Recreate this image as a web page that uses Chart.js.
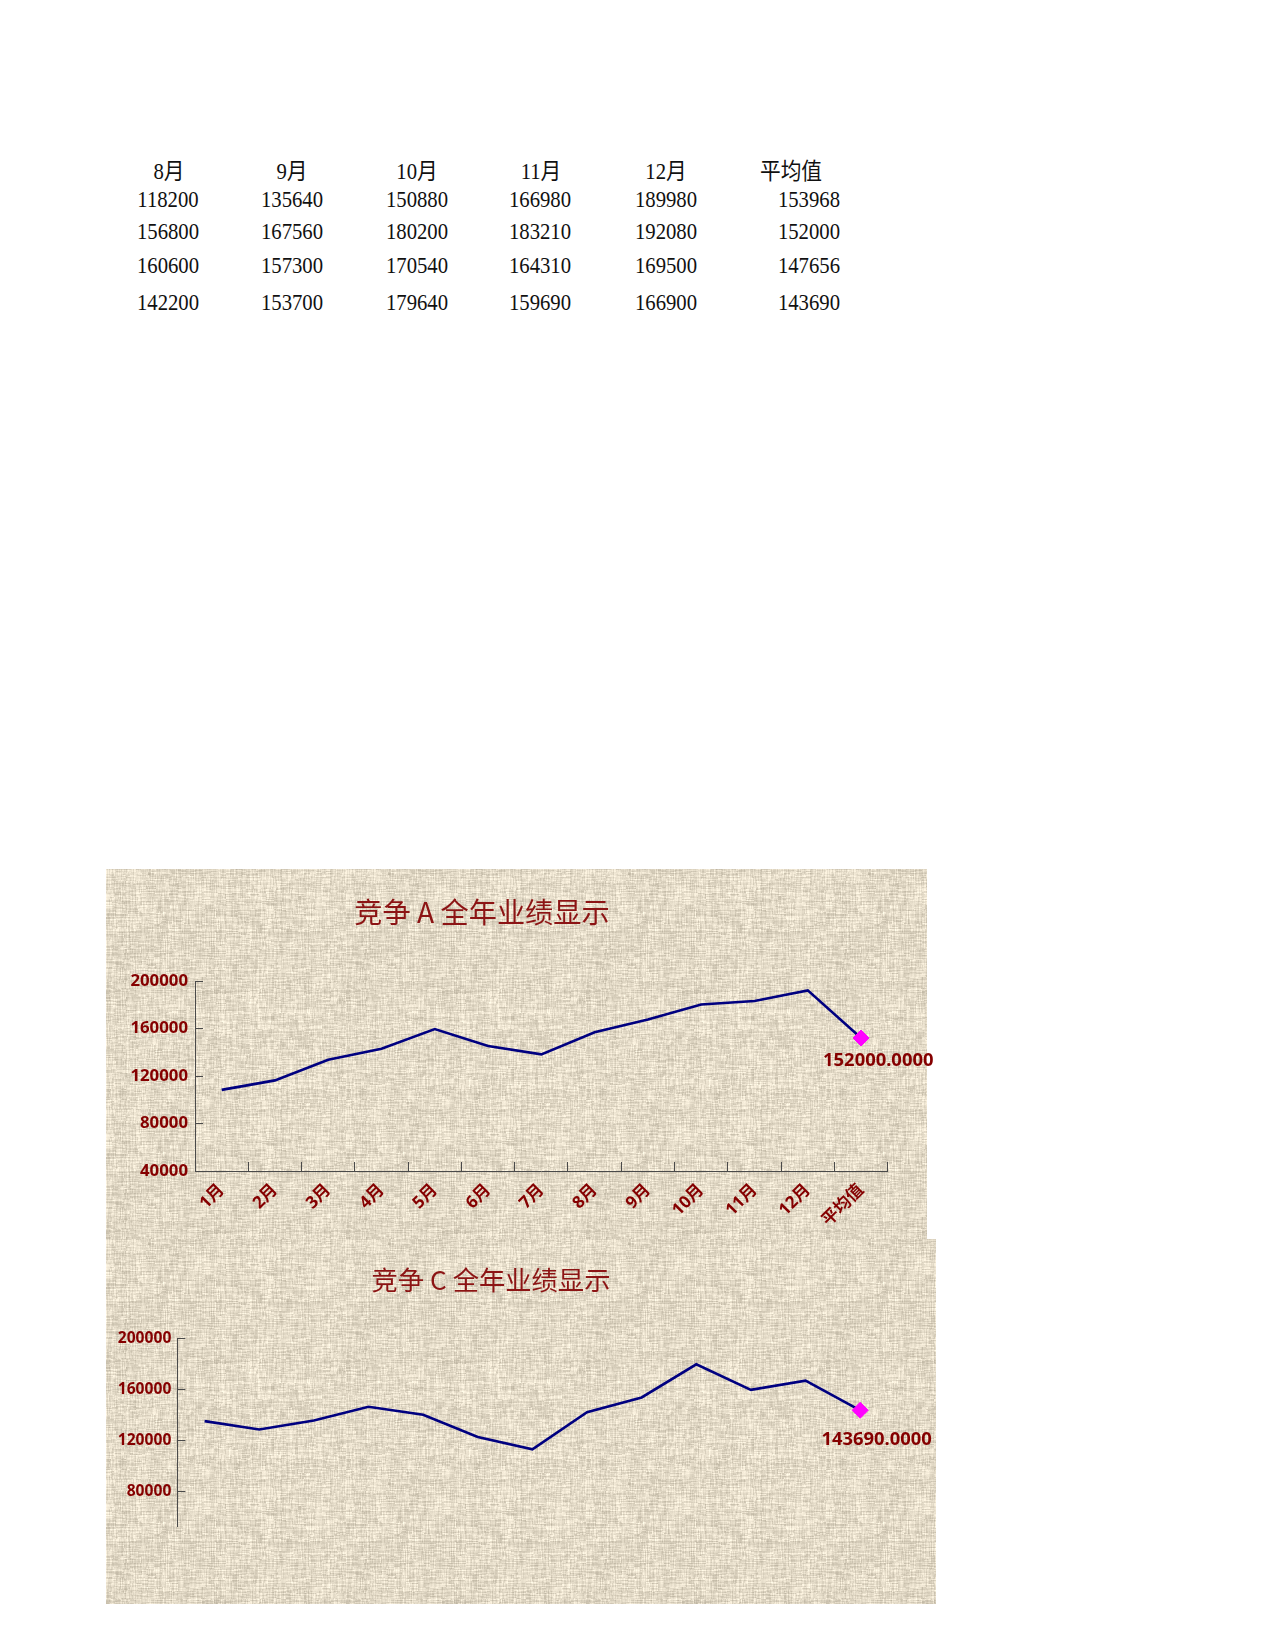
<!DOCTYPE html>
<html>
<head>
<meta charset="utf-8">
<script src="https://cdn.jsdelivr.net/npm/chart.js@4.4.1/dist/chart.umd.min.js"></script>
<style>
  html, body { margin: 0; padding: 0; background: #ffffff; }
  body { width: 1275px; height: 1650px; position: relative; overflow: hidden; }
  .cell {
    position: absolute; white-space: nowrap; line-height: 1;
    font-family: "Liberation Serif", "Noto Sans CJK SC", serif;
    font-size: 23px; color: #111;
  }
  .c { transform: translate(-50%, -50%) scaleX(0.9); }
  .rt { transform-origin: 100% 50%; transform: translate(-100%, -50%) scaleX(0.9); }
  canvas { position: absolute; display: block; }
</style>
</head>
<body>
<div id="table"></div>
<canvas id="chartA" width="834" height="370" style="left:106px;top:869px;width:834px;height:370px"></canvas>
<canvas id="chartC" width="830" height="365" style="left:106px;top:1239px;width:830px;height:365px"></canvas>
<script>
// ---------- data ----------
const tableHeaders = ['8月', '9月', '10月', '11月', '12月', '平均值'];
const tableRow1 = [118200, 135640, 150880, 166980, 189980, 153968];
const tableRow2 = [156800, 167560, 180200, 183210, 192080, 152000];
const tableRow3 = [160600, 157300, 170540, 164310, 169500, 147656];
const tableRow4 = [142200, 153700, 179640, 159690, 166900, 143690];

const categories = ['1月', '2月', '3月', '4月', '5月', '6月', '7月', '8月', '9月', '10月', '11月', '12月', '平均值'];
const salesA = [108300, 116300, 133700, 142900, 159500, 145200, 138250, 156800, 167560, 180200, 183210, 192080, 152000];
const salesC = [135200, 128700, 135700, 146400, 140200, 122800, 113150, 142200, 153700, 179640, 159690, 166900, 143690];
const yTicksA = [40000, 80000, 120000, 160000, 200000];
const yTicksC = [80000, 120000, 160000, 200000];
const titleA = '竞争 A 全年业绩显示';
const titleC = '竞争 C 全年业绩显示';

// ---------- table (text) ----------
(function buildTable() {
  const host = document.getElementById('table');
  const colX = [168, 291.5, 416.5, 540, 665.5];
  const headY = 171;
  const rowY = [198.5, 231, 265.3, 302.3];
  const rows = [tableRow1, tableRow2, tableRow3, tableRow4];
  function add(text, x, y, cls) {
    const d = document.createElement('div');
    d.className = 'cell ' + cls;
    d.style.left = x + 'px';
    d.style.top = y + 'px';
    d.textContent = text;
    host.appendChild(d);
  }
  tableHeaders.forEach((h, i) => {
    if (i < 5) add(h, colX[i] + 0.5, headY, 'c');
    else add(h, 791, headY, 'c');
  });
  rows.forEach((row, r) => {
    row.forEach((v, i) => {
      if (i < 5) add(String(v), colX[i], rowY[r], 'c');
      else add(String(v), 839.5, rowY[r], 'rt');
    });
  });
})();

// ---------- linen texture ----------
function makeLinen() {
  const S = 240;
  const c = document.createElement('canvas');
  c.width = S; c.height = S;
  const g = c.getContext('2d');
  const img = g.createImageData(S, S);
  const hs = n => { const s = Math.sin(n * 12.9898 + 78.233) * 43758.5453; return s - Math.floor(s); };
  for (let y = 0; y < S; y++) {
    const rowSeg = 3 + Math.floor(hs(y + 0.5) * 10);
    const rowBias = hs(y * 0.71 + 3.3) - 0.5;
    for (let x = 0; x < S; x++) {
      const colSeg = 3 + Math.floor(hs(x + 1000.5) * 10);
      const colBias = hs(x * 0.53 + 7.7) - 0.5;
      const rv = hs(y * 3.17 + Math.floor(x / rowSeg) * 0.731 + 5.1) - 0.5;
      const cv = hs(x * 2.91 + Math.floor(y / colSeg) * 0.613 + 91.7) - 0.5;
      const pv = hs(x * 0.37 + y * 1.93 + 17.3) - 0.5;
      const v = 219 + rv * 32 + cv * 28 + rowBias * 10 + colBias * 10 + pv * 6;
      const k = (y * S + x) * 4;
      img.data[k] = v + 8;
      img.data[k + 1] = v - 1;
      img.data[k + 2] = v - 20;
      img.data[k + 3] = 255;
    }
  }
  g.putImageData(img, 0, 0);
  return c;
}
const linen = makeLinen();

// ---------- plugins ----------
const bgPlugin = {
  id: 'linenBg',
  beforeDraw(chart, args, opts) {
    const ctx = chart.ctx;
    ctx.save();
    ctx.fillStyle = ctx.createPattern(linen, 'repeat');
    ctx.fillRect(0, 0, opts.width, opts.height);
    ctx.restore();
  }
};
const titlePlugin = {
  id: 'posTitle',
  afterDraw(chart, args, opts) {
    const ctx = chart.ctx;
    ctx.save();
    ctx.font = opts.size + 'px "Noto Sans CJK SC", "Noto Sans", sans-serif';
    ctx.fillStyle = '#8c1414';
    ctx.textAlign = 'center';
    ctx.textBaseline = 'middle';
    ctx.fillText(opts.text, opts.x, opts.y);
    ctx.restore();
  }
};
const valueLabelPlugin = {
  id: 'lastValue',
  afterDatasetsDraw(chart, args, opts) {
    const meta = chart.getDatasetMeta(0);
    const i = meta.data.length - 1;
    const pt = meta.data[i];
    const v = chart.data.datasets[0].data[i];
    const ctx = chart.ctx;
    ctx.save();
    ctx.font = 'bold 18.4px "Noto Sans", "Noto Sans CJK SC", sans-serif';
    ctx.fillStyle = '#850000';
    ctx.textAlign = 'center';
    ctx.textBaseline = 'middle';
    ctx.fillText(v.toFixed(4), pt.x + opts.dx, pt.y + opts.dy);
    ctx.restore();
  }
};

const labelColor = '#850000';
const axisColor = '#4a4a4a';
const fontFam = '"Noto Sans", "Noto Sans CJK SC", sans-serif';
const plainNumber = v => String(v);

function dataset(values) {
  return {
    data: values,
    borderColor: '#000080',
    borderWidth: 2.6,
    tension: 0,
    fill: false,
    pointStyle: 'rectRot',
    pointRadius: values.map((v, i) => (i === values.length - 1 ? 8 : 0)),
    pointHoverRadius: 0,
    pointBackgroundColor: '#ff00ff',
    pointBorderColor: '#ff00ff',
    pointBorderWidth: 1
  };
}

// ---------- chart A ----------
new Chart(document.getElementById('chartA'), {
  type: 'line',
  data: { labels: categories, datasets: [dataset(salesA)] },
  plugins: [bgPlugin, titlePlugin, valueLabelPlugin],
  options: {
    responsive: false,
    animation: false,
    events: [],
    layout: { padding: { left: 0, top: 112, right: 52.3, bottom: 0 } },
    plugins: {
      legend: { display: false },
      tooltip: { enabled: false },
      linenBg: { width: 821, height: 370 },
      posTitle: { text: titleA, x: 376, y: 43, size: 28.2 },
      lastValue: { dx: 17.2, dy: 22.3 }
    },
    scales: {
      x: {
        type: 'category',
        offset: true,
        grid: { display: true, offset: true, drawOnChartArea: false, drawTicks: true, tickLength: -9, color: axisColor, lineWidth: 1 },
        border: { display: true, color: axisColor, width: 1 },
        ticks: {
          autoSkip: false, maxRotation: 45, minRotation: 45, padding: 18,
          color: labelColor, font: { family: fontFam, size: 17, weight: 'bold' }
        },
        afterFit: s => { s.height = 68; }
      },
      y: {
        min: 40000, max: 200000,
        afterBuildTicks: s => { s.ticks = yTicksA.map(v => ({ value: v })); },
        grid: { display: true, drawOnChartArea: false, drawTicks: true, tickLength: -8, color: axisColor, lineWidth: 1 },
        border: { display: true, color: axisColor, width: 1 },
        ticks: { padding: 15, color: labelColor, font: { family: fontFam, size: 16.8, weight: 'bold' }, callback: plainNumber },
        afterFit: s => { s.width = 89; }
      }
    }
  }
});

// ---------- chart C ----------
new Chart(document.getElementById('chartC'), {
  type: 'line',
  data: { labels: categories, datasets: [dataset(salesC)] },
  plugins: [bgPlugin, titlePlugin, valueLabelPlugin],
  options: {
    responsive: false,
    animation: false,
    events: [],
    layout: { padding: { left: 0, top: 99.3, right: 48.5, bottom: 77.3 } },
    plugins: {
      legend: { display: false },
      tooltip: { enabled: false },
      linenBg: { width: 830, height: 365 },
      posTitle: { text: titleC, x: 385, y: 40.6, size: 26.3 },
      lastValue: { dx: 16.5, dy: 29.6 }
    },
    scales: {
      x: {
        type: 'category',
        offset: true,
        display: false
      },
      y: {
        min: 52600, max: 200000,
        afterBuildTicks: s => { s.ticks = yTicksC.map(v => ({ value: v })); },
        grid: { display: true, drawOnChartArea: false, drawTicks: true, tickLength: -8, color: axisColor, lineWidth: 1 },
        border: { display: true, color: axisColor, width: 1 },
        ticks: { padding: 14, color: labelColor, font: { family: fontFam, size: 15.6, weight: 'bold' }, callback: plainNumber },
        afterFit: s => { s.width = 71.3; }
      }
    }
  }
});
</script>
</body>
</html>
